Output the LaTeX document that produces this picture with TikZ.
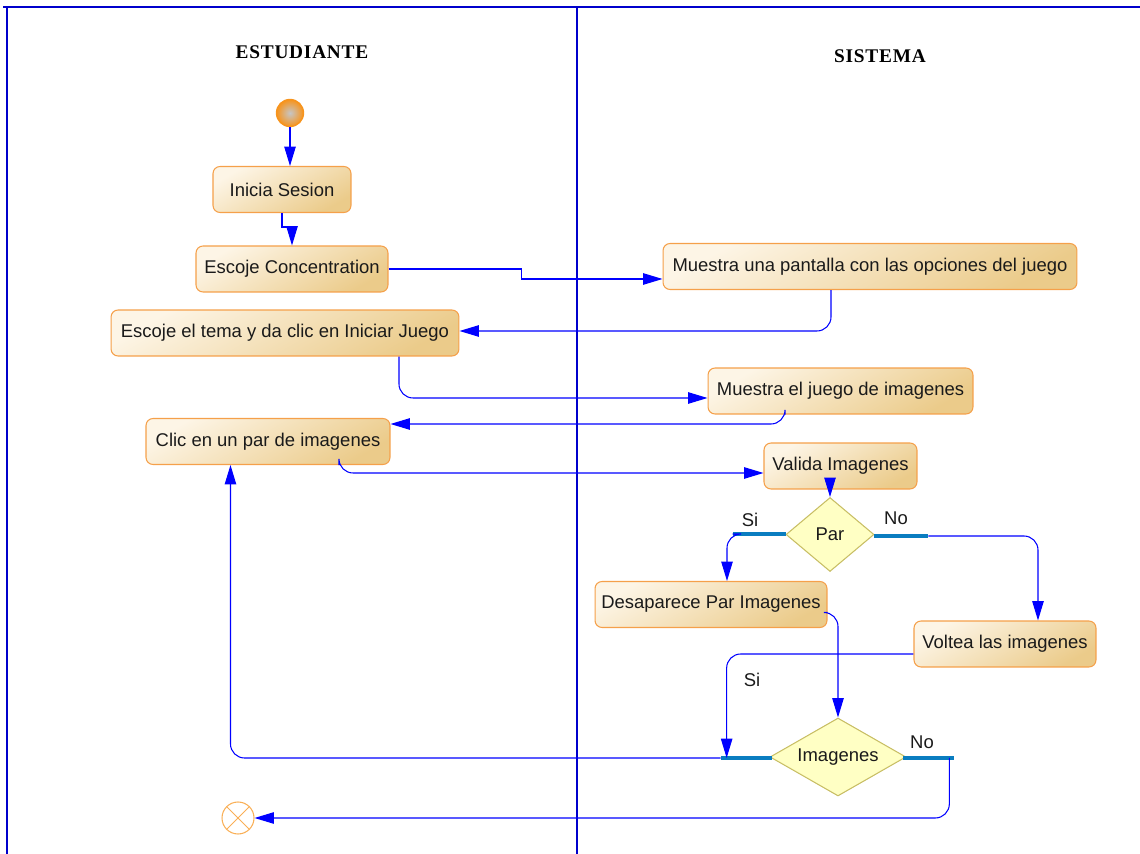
\documentclass[tikz,border=0pt]{standalone}
\usepackage{fontspec}
\setmainfont{Liberation Sans}
\newfontfamily\headfont[LetterSpace=4]{Liberation Serif}
\usetikzlibrary{arrows.meta,shapes.geometric,calc}
\definecolor{ink}{HTML}{1A1A1A}
\definecolor{flowc}{HTML}{0000FF}
\definecolor{lanec}{HTML}{0000CC}
\definecolor{actline}{HTML}{F5A04A}
\definecolor{acttop}{HTML}{FDF5E6}
\definecolor{actbot}{HTML}{EBCB8A}
\definecolor{decfill}{HTML}{FFFFC4}
\definecolor{decline}{HTML}{C8BE64}
\definecolor{barc}{HTML}{0A7DC0}
\definecolor{startc}{HTML}{F7941D}

\begin{document}
\begin{tikzpicture}[x=0.02cm,y=-0.02cm,font=\fontsize{10.5}{12}\selectfont,
  act/.style={draw=actline,rounded corners=4pt,minimum height=0.92cm,inner sep=2pt,
    top color=acttop,bottom color=actbot,shading angle=30,text=ink,line width=.6pt},
  dec/.style={diamond,draw=decline,fill=decfill,inner sep=0,text=ink,line width=.6pt},
  bar/.style={fill=barc,minimum height=0.08cm,inner sep=0},
  flow/.style={-{Triangle[length=11pt,width=6.5pt]},draw=flowc,line width=.6pt,
    rounded corners=8pt},
  lane/.style={draw=lanec,line width=.8pt},
  lanehead/.style={font=\headfont\bfseries\fontsize{11}{13}\selectfont,text=black},
  lbl/.style={text=ink,inner sep=1pt},
  start/.style={circle,draw=startc,line width=.8pt,minimum size=0.54cm,inner sep=0,
    inner color=gray!45,outer color=startc},
  fin/.style={circle,draw=startc!75,line width=.6pt,minimum size=0.64cm,inner sep=0,
    path picture={\draw[startc!75,line width=.6pt]
      (path picture bounding box.north west)--(path picture bounding box.south east)
      (path picture bounding box.south west)--(path picture bounding box.north east);}}]

\useasboundingbox (0,0) rectangle (1140,854);

% swimlanes
\draw[lane] (3,7) -- (1140,7);
\draw[lane] (7,7) -- (7,854);
\draw[lane] (577,7) -- (577,854);
\node[lanehead] (hest) at (302,52) {ESTUDIANTE};
\node[lanehead] (hsis) at (880,56) {SISTEMA};

% activities
\node[start] (ini) at (290,113) {};
\node[act,minimum width=2.76cm] (sesion) at (282,189.5) {Inicia Sesion};
\node[act,minimum width=3.84cm] (concent) at (292,269) {Escoje Concentration};
\node[act,minimum width=8.28cm] (pantalla) at (870,266.5)
  {Muestra una pantalla con las opciones del juego};
\node[act,minimum width=6.96cm] (tema) at (285,333)
  {Escoje el tema y da clic en Iniciar Juego};
\node[act,minimum width=5.3cm] (juego) at (840.5,391) {Muestra el juego de imagenes};
\node[act,minimum width=4.88cm] (clic) at (268,441.5) {Clic en un par de imagenes};
\node[act,minimum width=3.06cm] (valida) at (840.5,466) {Valida Imagenes};
\node[dec,aspect=1.19,minimum width=1.76cm,minimum height=1.48cm] (par) at (830,534.5) {Par};
\node[bar,minimum width=1.06cm] (parsi) at (759.5,534) {};
\node[bar,minimum width=1.08cm] (parno) at (901,536) {};
\node[act,minimum width=4.64cm] (desap) at (711,604.5) {Desaparece Par Imagenes};
\node[act,minimum width=3.64cm] (voltea) at (1005,644) {Voltea las imagenes};
\node[dec,aspect=1.75,minimum width=2.72cm,minimum height=1.56cm] (imag) at (838,757) {Imagenes};
\node[bar,minimum width=1.02cm] (imgsi) at (746.5,758) {};
\node[bar,minimum width=1.02cm] (imgno) at (928.5,758) {};
\node[fin] (fin) at (238,818) {};

% guards
\node[lbl] (lsi1) at (750,520) {Si};
\node[lbl] (lno1) at (896,518) {No};
\node[lbl] (lsi2) at (752,680) {Si};
\node[lbl] (lno2) at (922,742) {No};

% transitions
\draw[flow] (ini) -- (ini |- sesion.north);
\draw[flow,sharp corners] (sesion.south) -- ++(0,14) -| (concent.north);
\draw[flow,sharp corners] (concent.east) -- ++(133,0) |- ([yshift=-0.25cm]pantalla.west);
\draw[flow] ([xshift=-0.78cm]pantalla.south) |- ([yshift=0.04cm]tema.east);
\draw[flow] ([xshift=2.28cm]tema.south) |- ([yshift=-0.14cm]juego.west);
\draw[flow] ([xshift=-1.11cm]juego.south) |- ([yshift=0.35cm]clic.east);
\draw[flow] ([xshift=1.42cm]clic.south) |- ([yshift=-0.14cm]valida.west);
\draw[flow] (par.north |- valida.south) -- (par.north);
\draw[flow] (parsi.west) -| ([xshift=0.32cm]desap.north);
\draw[flow] (parno.east) -| ([xshift=0.66cm]voltea.north);
\draw[flow] ([yshift=-0.16cm]desap.east) -| (imag.north);
\draw[flow] ([yshift=-0.2cm]voltea.west) -| ([xshift=0.12cm]imgsi.west);
\draw[flow] (imgsi.west) -| ([xshift=1.7cm]clic.south west);
\draw[flow] ([xshift=-0.1cm]imgno.east) |- (fin.east);

\end{tikzpicture}
\end{document}
